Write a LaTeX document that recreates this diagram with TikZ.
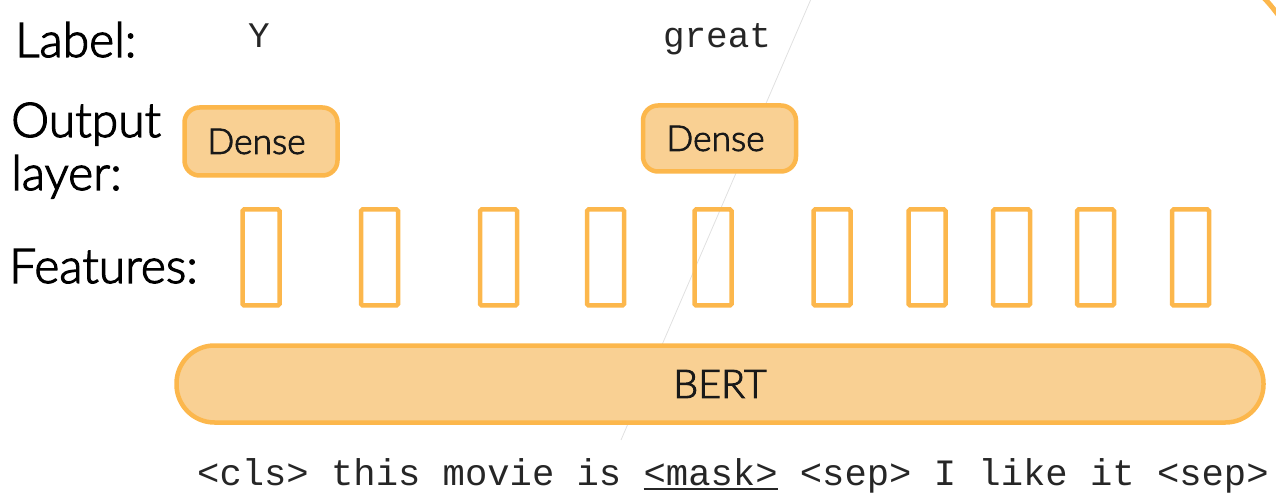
\documentclass[tikz,border=0pt]{standalone}
\usepackage{fontspec}
\setmainfont{Lato Light}[RawFeature={embolden=2.5}]
\setmonofont{Liberation Mono}
\definecolor{borange}{HTML}{FCB74C}
\definecolor{bfill}{HTML}{F9D093}
\newcommand\myul[1]{\setbox0\hbox{#1}\rlap{\rule[-5pt]{\wd0}{2pt}}\box0\relax}
\tikzset{
  rowlabel/.style={font=\fontsize{48}{53}\selectfont, anchor=base west, inner sep=0pt, text=black},
  monolabel/.style={font=\ttfamily\fontsize{36}{40}\selectfont, anchor=base, inner sep=0pt, text=black!85},
  densebox/.style={draw=borange, fill=bfill, line width=4.5pt, rounded corners=15pt,
    minimum width=153pt, minimum height=68pt, inner sep=0pt},
  densetext/.style={inner sep=0pt, font=\fontsize{35.5}{40}\selectfont, text=black!90},
  featbox/.style={draw=borange, line width=4.5pt, rounded corners=1.5pt,
    minimum width=37pt, minimum height=96pt, inner sep=0pt},
  bertbox/.style={draw=borange, fill=bfill, line width=4.5pt, rounded corners=38pt,
    minimum width=1087pt, minimum height=77pt, inner sep=0pt, font=\fontsize{39.5}{44}\selectfont, text=black!90},
}
\begin{document}
\begin{tikzpicture}[x=1pt,y=-1pt]
\useasboundingbox (0,0) rectangle (1276,502);
% faint leftover line
\coordinate (lt) at (811,-1);
\coordinate (lb) at (621,440);
\draw[black!12, line width=0.8pt] (lt) -- (lb);
% corner arc
\coordinate (ca) at (1263,-3);
\coordinate (cb) at (1279,16);
\draw[borange, line width=5pt] (ca) .. controls (1268,2) and (1273,8) .. (cb);
% row labels
\node[rowlabel] (lab) at (15,57) {Label:};
\node[rowlabel] (out) at (11,137) {Output};
\node[rowlabel] (lay) at (11,190) {layer:};
\node[rowlabel] (fea) at (9,283) {Features:};
% labels
\node[monolabel] (y) at (259,48) {Y};
\node[monolabel] (great) at (717,48) {great};
% dense
\node[densebox] (d1) at (261,141.5) {};
\node[densetext] (d1t) at (256.5,141.5) {Dense};
\node[densebox, minimum height=66pt] (d2) at (719.5,138.5) {};
\node[densetext] (d2t) at (715.5,138.5) {Dense};
% features
\foreach \i/\x in {1/261,2/379.5,3/498.5,4/605.5,5/713,6/832,7/927,8/1011.5,9/1095.5,10/1190.5}
  \node[featbox] (f\i) at (\x,257.5) {};
% BERT
\node[bertbox] (bert) at (720,384) {BERT};
% input
\node[anchor=base west, inner sep=0pt, text=black!85, font=\ttfamily\fontsize{37.2}{40}\selectfont] (inp) at (197,485)
  {<cls> this movie is \myul{<mask>} <sep> I like it <sep>};
\end{tikzpicture}
\end{document}
